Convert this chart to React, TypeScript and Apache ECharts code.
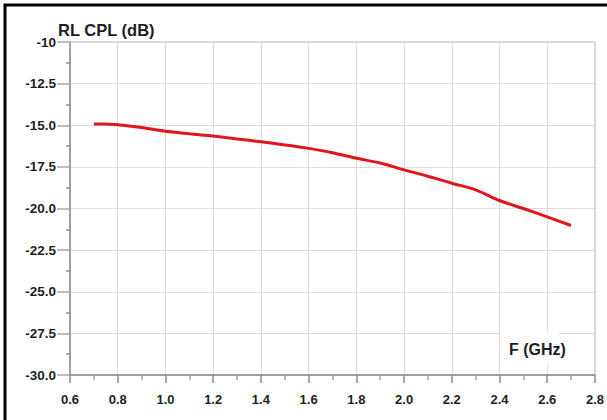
import React, { useEffect, useRef } from "react";
import * as echarts from "echarts";

const freqGHz = [0.70, 0.75, 0.80, 0.90, 1.00, 1.10, 1.20, 1.30, 1.40, 1.50, 1.60, 1.70, 1.80, 1.90, 2.00, 2.10, 2.20, 2.30, 2.40, 2.50, 2.60, 2.70];
const rlCplDb = [-14.92, -14.93, -14.97, -15.14, -15.36, -15.51, -15.65, -15.82, -15.99, -16.18, -16.39, -16.65, -16.98, -17.27, -17.68, -18.06, -18.48, -18.88, -19.52, -20.0, -20.5, -21.02];

const yAxisTitle = "RL CPL (dB)";
const xAxisTitle = "F (GHz)";

export default function App() {
  const ref = useRef<HTMLDivElement>(null);
  useEffect(() => {
    if (!ref.current) return;
    const chart = echarts.init(ref.current, null, { renderer: "svg" });
    const font = "'Liberation Sans', Arial, Helvetica, sans-serif";
    chart.setOption({
      animation: false,
      backgroundColor: "#ffffff",
      grid: {
        left: 70,
        top: 42,
        right: 11,
        bottom: 45,
        show: true,
        borderColor: "#b4b4b4",
        borderWidth: 1,
      },
      xAxis: {
        type: "value",
        min: 0.6,
        max: 2.8,
        interval: 0.2,
        axisLine: { show: true, onZero: false, lineStyle: { color: "#8c8c8c", width: 1.5 } },
        axisTick: { show: true, length: 8, lineStyle: { color: "#8c8c8c", width: 1.5 } },
        minorTick: { show: true, splitNumber: 2, length: 5, lineStyle: { color: "#a0a0a0", width: 1.5 } },
        splitLine: { show: true, lineStyle: { color: "#dcdcdc", width: 1 } },
        axisLabel: {
          margin: 18,
          fontFamily: font,
          fontWeight: "bold",
          fontSize: 13,
          color: "#1e1e1e",
          formatter: (v: number) => v.toFixed(1),
        },
      },
      yAxis: {
        type: "value",
        min: -30,
        max: -10,
        interval: 2.5,
        axisLine: { show: true, onZero: false, lineStyle: { color: "#8c8c8c", width: 1.5 } },
        axisTick: { show: true, length: 13, lineStyle: { color: "#a8a8a8", width: 1.5 } },
        minorTick: { show: true, splitNumber: 2, length: 4, lineStyle: { color: "#8c8c8c", width: 1.5 } },
        splitLine: { show: true, lineStyle: { color: "#dcdcdc", width: 1 } },
        axisLabel: {
          margin: 14,
          fontFamily: font,
          fontWeight: "bold",
          fontSize: 13.5,
          color: "#1e1e1e",
          formatter: (v: number) => (v === -10 ? "-10" : v.toFixed(1)),
        },
      },
      graphic: [
        {
          type: "rect",
          shape: { x: 5, y: 5, width: 800, height: 600 },
          style: { fill: "none", stroke: "#000000", lineWidth: 3 },
          silent: true,
          z: 100,
        },
        {
          type: "rect",
          shape: { x: 500, y: 333, width: 59, height: 32 },
          style: { fill: "#ffffff" },
          silent: true,
          z: 50,
        },
        {
          type: "text",
          x: 509,
          y: 349,
          style: {
            text: xAxisTitle,
            font: `bold 16px ${font}`,
            fill: "#1e1e1e",
            verticalAlign: "middle",
            align: "left",
          },
          z: 51,
        },
        {
          type: "text",
          x: 58,
          y: 29.5,
          style: {
            text: yAxisTitle,
            font: `bold 16.5px ${font}`,
            fill: "#1e1e1e",
            verticalAlign: "middle",
            align: "left",
          },
          z: 51,
        },
      ],
      series: [
        {
          type: "line",
          data: freqGHz.map((f, i) => [f, rlCplDb[i]]),
          smooth: 0.3,
          showSymbol: false,
          symbol: "none",
          lineStyle: { color: "#e0161c", width: 3 },
          z: 10,
        },
      ],
    });
    return () => chart.dispose();
  }, []);
  return (
    <div
      ref={ref}
      style={{ position: "absolute", left: 0, top: 0, width: 607, height: 420 }}
    />
  );
}
